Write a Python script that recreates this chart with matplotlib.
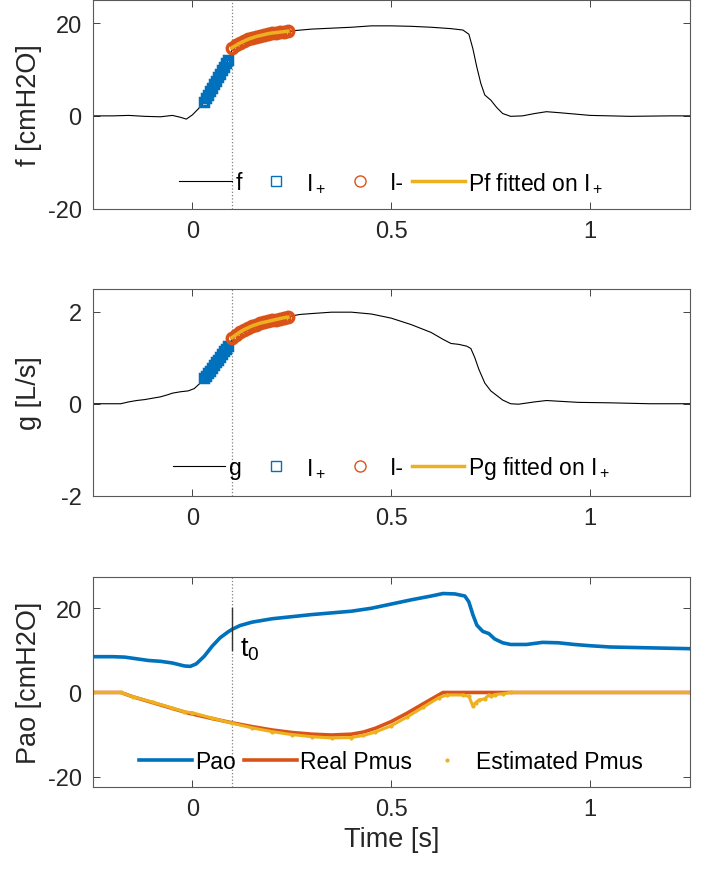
import matplotlib
matplotlib.use("Agg")
import matplotlib.pyplot as plt
from matplotlib.lines import Line2D

plt.rcParams['font.family'] = ['Liberation Sans', 'DejaVu Sans']
plt.rcParams['mathtext.fontset'] = 'custom'
plt.rcParams['mathtext.rm'] = 'Liberation Sans'
plt.rcParams['mathtext.it'] = 'Liberation Sans'
plt.rcParams['axes.unicode_minus'] = False

BLUE = '#0072BD'
ORANGE = '#D95319'
YELLOW = '#EDB120'

t0 = 0.1

# f signal (cmH2O)
t_f = [-0.25, -0.20, -0.16, -0.12, -0.08, -0.05, -0.03, -0.015, 0.0, 0.015,
       0.03, 0.045, 0.06, 0.075, 0.09, 0.10, 0.12, 0.14, 0.16, 0.18,
       0.20, 0.22, 0.245, 0.26, 0.30, 0.35, 0.40, 0.45, 0.50, 0.55,
       0.60, 0.65, 0.68, 0.695, 0.705, 0.715, 0.725, 0.735, 0.75, 0.765,
       0.78, 0.80, 0.83, 0.86, 0.89, 0.92, 0.96, 1.00, 1.05, 1.10, 1.20, 1.25]
f_vals = [0.0, 0.0, 0.1, -0.1, -0.2, 0.1, -0.3, -0.7, 0.2, 1.5,
          3.0, 5.3, 7.5, 9.8, 12.0, 14.2, 15.6, 16.4, 17.0, 17.4,
          17.8, 18.0, 18.2, 18.4, 18.7, 18.9, 19.1, 19.4, 19.4, 19.3,
          19.1, 18.8, 18.5, 17.6, 14.5, 10.5, 7.0, 4.5, 3.4, 1.8,
          0.5, -0.1, 0.0, 0.5, 0.9, 0.7, 0.4, 0.1, 0.0, -0.1, 0.0, 0.0]

# g signal (L/s)
t_g = [-0.25, -0.18, -0.16, -0.14, -0.12, -0.10, -0.08, -0.06, -0.05, -0.03,
       -0.01, 0.005, 0.02, 0.03, 0.045, 0.06, 0.075, 0.09, 0.10, 0.12,
       0.14, 0.16, 0.18, 0.20, 0.22, 0.245, 0.27, 0.30, 0.35, 0.40,
       0.45, 0.50, 0.55, 0.60, 0.63, 0.65, 0.67, 0.69, 0.70, 0.71,
       0.72, 0.735, 0.75, 0.765, 0.78, 0.80, 0.82, 0.86, 0.89, 0.93,
       0.97, 1.05, 1.15, 1.25]
g_vals = [0.0, 0.0, 0.04, 0.07, 0.09, 0.12, 0.15, 0.20, 0.23, 0.26,
          0.28, 0.33, 0.45, 0.55, 0.72, 0.90, 1.08, 1.26, 1.40, 1.55,
          1.64, 1.71, 1.77, 1.82, 1.86, 1.90, 1.94, 1.96, 1.99, 1.99,
          1.95, 1.86, 1.72, 1.55, 1.40, 1.31, 1.29, 1.25, 1.20, 1.00,
          0.75, 0.45, 0.28, 0.18, 0.08, 0.0, -0.01, 0.04, 0.07, 0.05,
          0.03, 0.02, 0.0, 0.0]

# I+ and I- samples
t_ip = [0.03, 0.035, 0.04, 0.045, 0.05, 0.055, 0.06, 0.065, 0.07, 0.075, 0.08, 0.085, 0.09]
f_ip = [3.0, 3.8, 4.5, 5.3, 6.0, 6.8, 7.5, 8.3, 9.0, 9.8, 10.5, 11.3, 12.0]
g_ip = [0.55, 0.61, 0.66, 0.72, 0.78, 0.84, 0.90, 0.96, 1.02, 1.08, 1.14, 1.20, 1.26]

t_im = [0.10, 0.11, 0.12, 0.13, 0.14, 0.15, 0.16, 0.17, 0.18, 0.19, 0.20, 0.21, 0.22, 0.23, 0.24]
f_im = [14.6, 15.2, 15.7, 16.1, 16.5, 16.8, 17.1, 17.3, 17.5, 17.7, 17.8, 17.95, 18.05, 18.15, 18.25]
g_im = [1.42, 1.50, 1.56, 1.61, 1.65, 1.69, 1.72, 1.75, 1.77, 1.79, 1.81, 1.83, 1.85, 1.87, 1.89]
pf_fit = [14.7, 15.2, 15.7, 16.1, 16.5, 16.8, 17.1, 17.3, 17.5, 17.7, 17.85, 17.95, 18.05, 18.15, 18.25]
pg_fit = [1.44, 1.50, 1.56, 1.61, 1.65, 1.69, 1.72, 1.75, 1.77, 1.79, 1.81, 1.83, 1.85, 1.87, 1.88]

# bottom panel
t_pao = [-0.25, -0.20, -0.17, -0.14, -0.11, -0.08, -0.05, -0.02, -0.005, 0.01,
         0.03, 0.05, 0.07, 0.09, 0.10, 0.12, 0.15, 0.20, 0.25, 0.30,
         0.35, 0.40, 0.45, 0.50, 0.55, 0.60, 0.63, 0.66, 0.685, 0.695,
         0.705, 0.715, 0.73, 0.745, 0.76, 0.78, 0.80, 0.84, 0.88, 0.92,
         0.96, 1.00, 1.05, 1.10, 1.15, 1.20, 1.25]
pao = [8.5, 8.5, 8.4, 8.0, 7.6, 7.4, 7.0, 6.3, 6.2, 6.8,
       8.6, 11.0, 13.0, 14.4, 15.0, 15.9, 16.7, 17.5, 18.0, 18.5,
       18.9, 19.3, 20.0, 21.0, 22.0, 22.9, 23.5, 23.4, 22.9, 21.5,
       18.5, 16.0, 14.5, 14.0, 12.7, 11.8, 11.4, 11.4, 11.9, 11.8,
       11.4, 11.1, 10.8, 10.7, 10.6, 10.5, 10.4]

t_real = [-0.25, -0.18, -0.15, -0.10, -0.05, -0.01, 0.05, 0.10, 0.15, 0.20,
          0.25, 0.30, 0.35, 0.40, 0.43, 0.46, 0.50, 0.54, 0.58, 0.63,
          0.80, 1.25]
real_pmus = [0.0, 0.0, -1.0, -2.4, -3.8, -4.9, -6.2, -7.2, -8.1, -8.9,
             -9.5, -9.9, -10.1, -9.9, -9.4, -8.5, -6.9, -4.9, -2.7, 0.0,
             0.0, 0.0]

t_est = [-0.25, -0.18, -0.15, -0.10, -0.05, -0.02, 0.0, 0.05, 0.10, 0.15,
         0.20, 0.25, 0.30, 0.35, 0.40, 0.43, 0.46, 0.50, 0.54, 0.58,
         0.62, 0.64, 0.68, 0.695, 0.705, 0.712, 0.72, 0.735, 0.745, 0.75,
         0.76, 0.78, 0.80, 1.25]
est_pmus = [0.0, 0.0, -1.0, -2.3, -3.7, -4.6, -4.8, -6.1, -7.3, -8.4,
            -9.3, -10.0, -10.5, -10.8, -10.7, -10.2, -9.4, -7.9, -5.8, -3.5,
            -1.2, -0.6, -0.6, -0.9, -3.2, -2.4, -1.8, -1.5, -0.6, -0.9,
            -0.5, -0.3, 0.0, 0.0]

fig = plt.figure(figsize=(7.14, 8.7), dpi=100)
left, width = 0.130, 0.836
ax1 = fig.add_axes([left, 0.759, width, 0.240])
ax2 = fig.add_axes([left, 0.429, width, 0.238])
ax3 = fig.add_axes([left, 0.094, width, 0.242])

TICK_FS = 17
LABEL_FS = 19.5
LEG_FS = 16.5


def style_axis(ax, ylim, yticks):
    ax.set_xlim(-0.25, 1.25)
    ax.set_ylim(*ylim)
    ax.set_xticks([0, 0.5, 1])
    ax.set_xticklabels(['0', '0.5', '1'])
    ax.set_yticks(yticks)
    ax.tick_params(direction='in', top=True, right=True, length=5, width=0.6,
                   labelsize=TICK_FS, colors='0.15', pad=8)
    for s in ax.spines.values():
        s.set_color('0.35')
        s.set_linewidth(0.8)
    ax.axvline(t0, color='0.5', linestyle=':', linewidth=0.9, zorder=0)


leg_kw = dict(loc='lower center', frameon=False, fontsize=LEG_FS,
              handlelength=2.3, handletextpad=0.15, columnspacing=0.35)
LEG_Y = -0.03

# panel 1
ax1.plot(t_f, f_vals, color='black', linewidth=0.8)
ax1.plot(t_ip, f_ip, 's', color=BLUE, markerfacecolor='none', markersize=6,
         markeredgewidth=2.5)
ax1.plot(t_im, f_im, 'o', color=ORANGE, markerfacecolor='none', markersize=7.5,
         markeredgewidth=2.5)
ax1.plot(t_im, pf_fit, color=YELLOW, linewidth=2.5)
style_axis(ax1, (-20, 25), [-20, 0, 20])
ax1.set_ylabel('f [cmH2O]', fontsize=LABEL_FS, color='0.15')
leg_handles1 = [
    Line2D([], [], color='black', linewidth=0.8),
    Line2D([], [], marker='s', color=BLUE, markerfacecolor='none', linestyle='none', markersize=7),
    Line2D([], [], marker='o', color=ORANGE, markerfacecolor='none', linestyle='none', markersize=8),
    Line2D([], [], color=YELLOW, linewidth=2.5),
]
ax1.legend(leg_handles1, ['f', 'I$_+$', 'I-', 'Pf fitted on I$_+$'], ncol=4,
           bbox_to_anchor=(0.5, LEG_Y), **leg_kw)

# panel 2
ax2.plot(t_g, g_vals, color='black', linewidth=0.8)
ax2.plot(t_ip, g_ip, 's', color=BLUE, markerfacecolor='none', markersize=6,
         markeredgewidth=2.5)
ax2.plot(t_im, g_im, 'o', color=ORANGE, markerfacecolor='none', markersize=7.5,
         markeredgewidth=2.5)
ax2.plot(t_im, pg_fit, color=YELLOW, linewidth=2.5)
style_axis(ax2, (-2, 2.5), [-2, 0, 2])
ax2.set_ylabel('g [L/s]', fontsize=LABEL_FS, color='0.15')
ax2.legend(leg_handles1, ['g', 'I$_+$', 'I-', 'Pg fitted on I$_+$'], ncol=4,
           bbox_to_anchor=(0.5, LEG_Y), **leg_kw)

# panel 3
ax3.plot(t_pao, pao, color=BLUE, linewidth=2.6)
ax3.plot(t_real, real_pmus, color=ORANGE, linewidth=2.6)
ax3.plot(t_est, est_pmus, color=YELLOW, linewidth=2.2, marker='.', markersize=4)
style_axis(ax3, (-22.5, 27.5), [-20, 0, 20])
t0_mark = [10, 20]
ax3.plot([t0, t0], t0_mark, color='0.2', linewidth=1.0)
ax3.text(t0 + 0.02, 13.5, 't$_0$', fontsize=LABEL_FS, va='top', ha='left', color='black')
ax3.set_ylabel('Pao [cmH2O]', fontsize=LABEL_FS, color='0.15')
ax3.set_xlabel('Time [s]', fontsize=LABEL_FS, color='0.15')
leg_handles3 = [
    Line2D([], [], color=BLUE, linewidth=2.6),
    Line2D([], [], color=ORANGE, linewidth=2.6),
    Line2D([], [], color=YELLOW, marker='.', linestyle='none', markersize=4),
]
ax3.legend(leg_handles3, ['Pao', 'Real Pmus', 'Estimated Pmus'], ncol=3,
           bbox_to_anchor=(0.5, LEG_Y), **leg_kw)

for ax in (ax1, ax2, ax3):
    ax.yaxis.set_label_coords(-0.085, 0.5)

fig.savefig('out.png', dpi=100)
